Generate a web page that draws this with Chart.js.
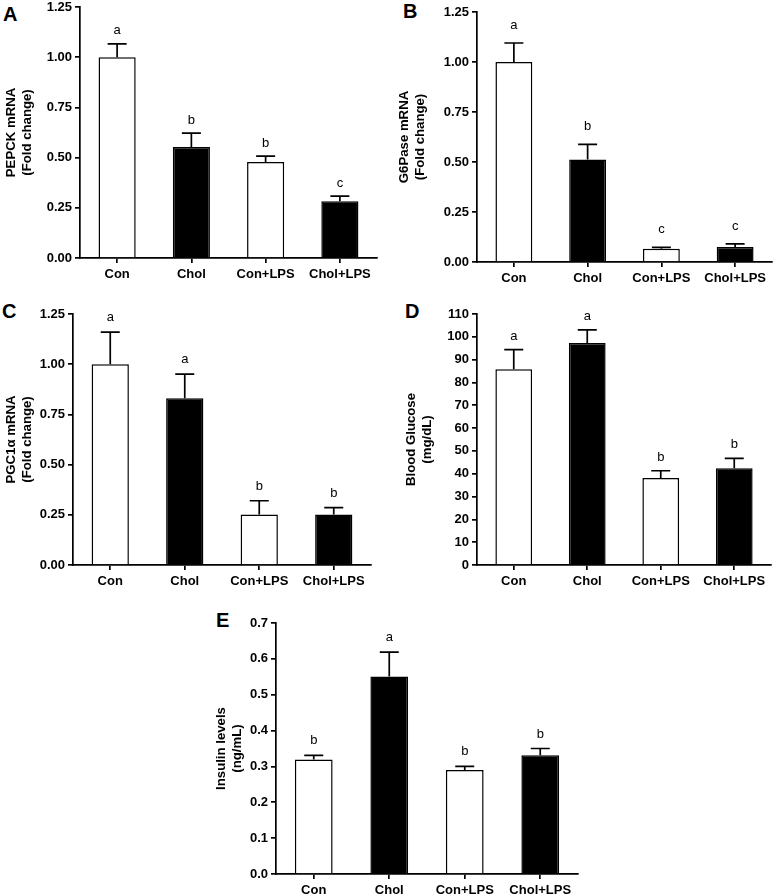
<!DOCTYPE html>
<html>
<head>
<meta charset="utf-8">
<script src="https://cdn.jsdelivr.net/npm/chart.js@4.4.1/dist/chart.umd.min.js"></script>
<style>
  html, body { margin: 0; padding: 0; background: #fff; }
  #page { position: relative; width: 777px; height: 895px; overflow: hidden; background: #fff; }
  canvas { position: absolute; }
  .letter { position: absolute; font: bold 20px "Liberation Sans", Arial, sans-serif; line-height: 20px; color: #000; }
</style>
</head>
<body>
<div id="page">
  <div class="letter" style="left:3px; top:4px;">A</div>
  <div class="letter" style="left:403px; top:1px;">B</div>
  <div class="letter" style="left:2px; top:301px;">C</div>
  <div class="letter" style="left:405px; top:301px;">D</div>
  <div class="letter" style="left:216px; top:610px;">E</div>
  <canvas id="chartA"></canvas>
  <canvas id="chartB"></canvas>
  <canvas id="chartC"></canvas>
  <canvas id="chartD"></canvas>
  <canvas id="chartE"></canvas>
</div>
<script>
// groups, shared by every panel
const categories = ['Con', 'Chol', 'Con+LPS', 'Chol+LPS'];
const barFills = ['#ffffff', '#000000', '#ffffff', '#000000'];

// A - PEPCK mRNA
const pepckMean = [1.00, 0.553, 0.478, 0.282];
const pepckSem = [0.066, 0.069, 0.029, 0.026];
const pepckLetters = ['a', 'b', 'b', 'c'];

// B - G6Pase mRNA
const g6paseMean = [1.00, 0.512, 0.066, 0.075];
const g6paseSem = [0.095, 0.076, 0.007, 0.016];
const g6paseLetters = ['a', 'b', 'c', 'c'];

// C - PGC1a mRNA
const pgcMean = [1.00, 0.830, 0.251, 0.252];
const pgcSem = [0.160, 0.121, 0.069, 0.034];
const pgcLetters = ['a', 'a', 'b', 'b'];

// D - blood glucose
const glucoseMean = [85.8, 97.3, 38.1, 42.4];
const glucoseSem = [8.6, 5.7, 3.2, 4.3];
const glucoseLetters = ['a', 'a', 'b', 'b'];

// E - insulin
const insulinMean = [0.319, 0.551, 0.290, 0.331];
const insulinSem = [0.012, 0.068, 0.010, 0.019];
const insulinLetters = ['b', 'a', 'b', 'b'];

const FONT = '"Liberation Sans", Arial, sans-serif';
const LINE_W = 1.7;

// draws upper SEM bars and the significance letters
const errorBarPlugin = {
    id: 'errorBars',
    afterDatasetsDraw(chart, args, opts) {
        const ctx = chart.ctx;
        const yScale = chart.scales.y;
        const meta = chart.getDatasetMeta(0);
        ctx.save();
        ctx.strokeStyle = '#000';
        ctx.lineWidth = LINE_W;
        meta.data.forEach((bar, i) => {
            const top = yScale.getPixelForValue(opts.means[i] + opts.sems[i]);
            ctx.beginPath();
            ctx.moveTo(bar.x, bar.y);
            ctx.lineTo(bar.x, top);
            ctx.moveTo(bar.x - 9.5, top);
            ctx.lineTo(bar.x + 9.5, top);
            ctx.stroke();
            ctx.fillStyle = '#000';
            ctx.font = '13px ' + FONT;
            ctx.textAlign = 'center';
            ctx.textBaseline = 'alphabetic';
            ctx.fillText(opts.letters[i], bar.x, top - opts.gap);
        });
        ctx.restore();
    }
};

function makePanel(p) {
    const canvas = document.getElementById(p.id);
    canvas.width = p.cw;
    canvas.height = p.ch;
    canvas.style.left = p.cx + 'px';
    canvas.style.top = p.cy + 'px';

    const yWidth = p.area.left - p.cx;
    const xHeight = p.cy + p.ch - p.area.bottom;

    new Chart(canvas.getContext('2d'), {
        type: 'bar',
        data: {
            labels: categories,
            datasets: [{
                data: p.means,
                backgroundColor: barFills,
                borderColor: '#000',
                borderWidth: 1.5,
                barPercentage: 0.5,
                categoryPercentage: 1.0
            }]
        },
        options: {
            responsive: false,
            maintainAspectRatio: false,
            animation: false,
            events: [],
            layout: {
                padding: {
                    left: 0,
                    top: p.area.top - p.cy,
                    right: p.cx + p.cw - p.area.right,
                    bottom: 0
                }
            },
            plugins: {
                legend: { display: false },
                tooltip: { enabled: false },
                errorBars: { means: p.means, sems: p.sems, letters: p.letters, gap: p.gap }
            },
            scales: {
                x: {
                    grid: {
                        display: true, offset: false, drawOnChartArea: false,
                        drawTicks: true, tickLength: 5, color: '#000', lineWidth: LINE_W
                    },
                    border: { display: true, color: '#000', width: LINE_W },
                    ticks: {
                        color: '#000', padding: 4, maxRotation: 0, autoSkip: false,
                        font: { family: FONT, size: 13, weight: 'bold' }
                    },
                    afterFit: s => { s.height = xHeight; }
                },
                y: {
                    min: 0,
                    max: p.max,
                    grid: {
                        display: true, drawOnChartArea: false,
                        drawTicks: true, tickLength: 5, color: '#000', lineWidth: LINE_W
                    },
                    border: { display: true, color: '#000', width: LINE_W },
                    ticks: {
                        stepSize: p.step,
                        color: '#000',
                        padding: 3,
                        font: { family: FONT, size: 13, weight: 'bold' },
                        callback: v => v.toFixed(p.decimals)
                    },
                    title: {
                        display: true,
                        text: p.title,
                        color: '#000',
                        padding: { top: 3, bottom: 0 },
                        font: { family: FONT, size: 13.2, weight: 'bold', lineHeight: 1.25 }
                    },
                    afterFit: s => { s.width = yWidth; }
                }
            }
        },
        plugins: [errorBarPlugin]
    });
}

makePanel({
    id: 'chartA', cx: 0, cy: -5, cw: 390, ch: 295,
    area: { left: 80, top: 7, right: 377, bottom: 258 },
    means: pepckMean, sems: pepckSem, letters: pepckLetters, gap: 9.5,
    max: 1.25, step: 0.25, decimals: 2,
    title: ['PEPCK mRNA', '(Fold change)']
});

makePanel({
    id: 'chartB', cx: 393, cy: 0, cw: 384, ch: 294,
    area: { left: 477, top: 12, right: 772, bottom: 262 },
    means: g6paseMean, sems: g6paseSem, letters: g6paseLetters, gap: 14,
    max: 1.25, step: 0.25, decimals: 2,
    title: ['G6Pase mRNA', '(Fold change)']
});

makePanel({
    id: 'chartC', cx: 0, cy: 302, cw: 390, ch: 295,
    area: { left: 73, top: 314, right: 371, bottom: 565 },
    means: pgcMean, sems: pgcSem, letters: pgcLetters, gap: 11,
    max: 1.25, step: 0.25, decimals: 2,
    title: ['PGC1\u03b1 mRNA', '(Fold change)']
});

makePanel({
    id: 'chartD', cx: 400, cy: 302, cw: 377, ch: 295,
    area: { left: 477, top: 314, right: 771, bottom: 565 },
    means: glucoseMean, sems: glucoseSem, letters: glucoseLetters, gap: 10,
    max: 110, step: 10, decimals: 0,
    title: ['Blood Glucose', '(mg/dL)']
});

makePanel({
    id: 'chartE', cx: 210, cy: 611, cw: 380, ch: 284,
    area: { left: 276, top: 623, right: 578, bottom: 874 },
    means: insulinMean, sems: insulinSem, letters: insulinLetters, gap: 11,
    max: 0.7, step: 0.1, decimals: 1,
    title: ['Insulin levels', '(ng/mL)']
});
</script>
</body>
</html>
